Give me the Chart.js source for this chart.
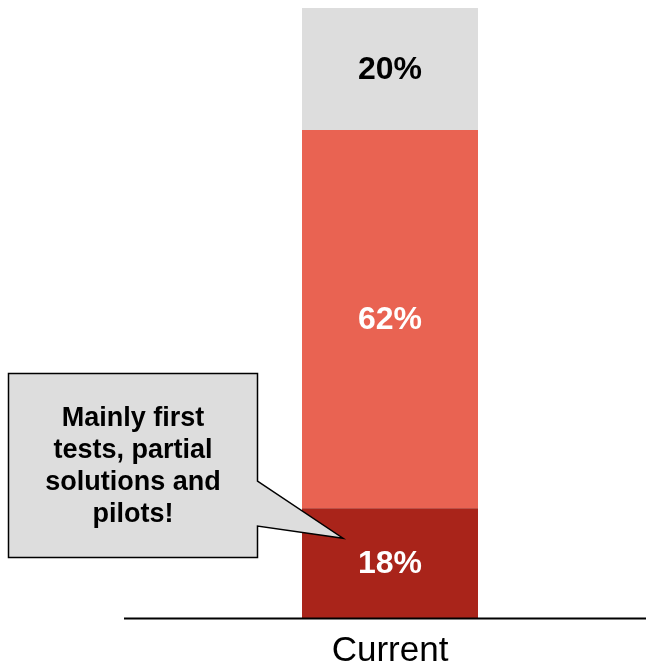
<!DOCTYPE html>
<html>
<head>
<meta charset="utf-8">
<script src="https://cdn.jsdelivr.net/npm/chart.js@4"></script>
<style>
  html, body { margin: 0; padding: 0; background: #ffffff; }
  #wrap { width: 646px; height: 669px; }
</style>
</head>
<body>
<div id="wrap"><canvas id="c" width="646" height="669"></canvas></div>
<script>
// Share of respondents by stage (stacked from bottom to top)
const categories = ['Current'];
const pilotShare = [18];
const middleShare = [62];
const topShare = [20];
const calloutLines = ['Mainly first', 'tests, partial', 'solutions and', 'pilots!'];

const FONT = '"Liberation Sans", Arial, Helvetica, sans-serif';

// Writes each segment's value at its centre
const segmentLabels = {
  id: 'segmentLabels',
  afterDatasetsDraw(chart) {
    const ctx = chart.ctx;
    ctx.save();
    ctx.font = 'bold 32px ' + FONT;
    ctx.textAlign = 'center';
    ctx.textBaseline = 'middle';
    chart.data.datasets.forEach((ds, i) => {
      const meta = chart.getDatasetMeta(i);
      meta.data.forEach((bar, j) => {
        const p = bar.getProps(['x', 'y', 'base'], true);
        ctx.fillStyle = ds.labelColor;
        ctx.fillText(ds.data[j] + '%', p.x, (p.y + p.base) / 2 + 1);
      });
    });
    ctx.restore();
  }
};

// Baseline under the bar, reaching a little past the plot's left edge
const baseline = {
  id: 'baseline',
  afterDatasetsDraw(chart) {
    const { ctx, chartArea } = chart;
    ctx.save();
    ctx.strokeStyle = '#000000';
    ctx.lineWidth = 2;
    ctx.beginPath();
    ctx.moveTo(chartArea.left - 10, chartArea.bottom + 0.5);
    ctx.lineTo(chartArea.right, chartArea.bottom + 0.5);
    ctx.stroke();
    ctx.restore();
  }
};

// Speech-bubble note pointing at the bottom segment
const callout = {
  id: 'callout',
  afterDraw(chart) {
    const ctx = chart.ctx;
    const bar = chart.getDatasetMeta(0).data[0];
    const p = bar.getProps(['x', 'width', 'y', 'base'], true);
    const tipX = p.x - p.width / 2 + 41;
    const tipY = p.y + 30;
    const L = 8.5, T = 373.5, R = 257.5, B = 557.5;
    ctx.save();
    ctx.beginPath();
    ctx.moveTo(L, T);
    ctx.lineTo(R, T);
    ctx.lineTo(R, 481);
    ctx.lineTo(tipX, tipY);
    ctx.lineTo(R, 526);
    ctx.lineTo(R, B);
    ctx.lineTo(L, B);
    ctx.closePath();
    ctx.fillStyle = '#dddddd';
    ctx.fill();
    ctx.strokeStyle = '#000000';
    ctx.lineWidth = 1.5;
    ctx.stroke();

    ctx.fillStyle = '#000000';
    ctx.font = 'bold 27px ' + FONT;
    ctx.textAlign = 'center';
    ctx.textBaseline = 'alphabetic';
    const cx = (L + R) / 2;
    calloutLines.forEach((line, i) => {
      ctx.fillText(line, cx, 426 + i * 32);
    });
    ctx.restore();
  }
};

new Chart(document.getElementById('c'), {
  type: 'bar',
  data: {
    labels: categories,
    datasets: [
      { data: pilotShare, backgroundColor: '#a9241a', labelColor: '#ffffff' },
      { data: middleShare, backgroundColor: '#e96352', labelColor: '#ffffff' },
      { data: topShare, backgroundColor: '#dddddd', labelColor: '#000000' }
    ]
  },
  options: {
    responsive: false,
    devicePixelRatio: 1,
    animation: false,
    layout: { padding: { left: 134, right: 0, top: 8, bottom: -16 } },
    datasets: {
      bar: { barPercentage: 176 / 512, categoryPercentage: 1, borderWidth: 0 }
    },
    plugins: {
      legend: { display: false },
      tooltip: { enabled: false }
    },
    scales: {
      x: {
        stacked: true,
        grid: { display: false, drawTicks: false },
        border: { display: false },
        ticks: {
          color: '#000000',
          padding: 16,
          font: { family: FONT, size: 35, lineHeight: 1.0 }
        }
      },
      y: {
        stacked: true,
        display: false,
        min: 0,
        max: 100
      }
    }
  },
  plugins: [segmentLabels, baseline, callout]
});
</script>
</body>
</html>
